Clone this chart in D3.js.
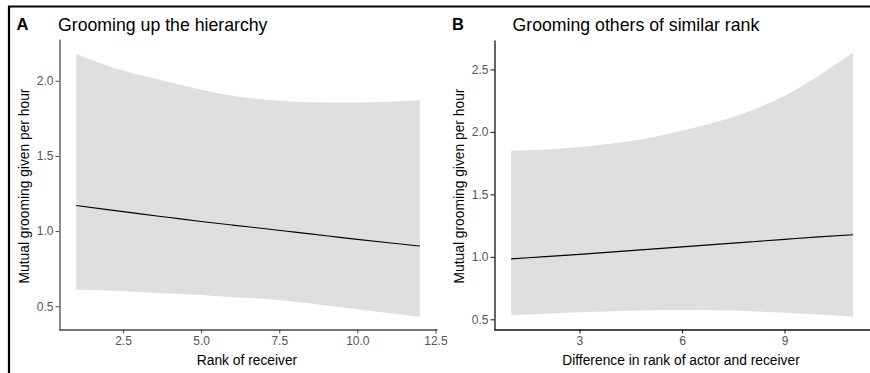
<!DOCTYPE html>
<html>
<head>
<meta charset="utf-8">
<script src="https://cdn.jsdelivr.net/npm/d3@7"></script>
<style>
  body { margin: 0; background: #fff; }
  text { font-family: "Liberation Sans", Arial, sans-serif; }
</style>
</head>
<body>
<div id="chart-area"></div>
<script>
// PANEL A DATA: rank of receiver
const rankA = [1, 2, 3, 4, 5, 6, 7, 8, 9, 10, 11, 12]
const fitA = [1.17, 1.143, 1.116, 1.09, 1.064, 1.04, 1.017, 0.993, 0.969, 0.945, 0.922, 0.90]
const upperA = [2.18, 2.10, 2.04, 1.99, 1.94, 1.90, 1.875, 1.86, 1.855, 1.855, 1.86, 1.87]
const lowerA = [0.61, 0.605, 0.595, 0.585, 0.575, 0.56, 0.55, 0.53, 0.505, 0.48, 0.455, 0.43]
const xTicksA = [2.5, 5, 7.5, 10, 12.5]
const yTicksA = [0.5, 1.0, 1.5, 2.0]

// PANEL B DATA: difference in rank
const diffB = [1, 2, 3, 4, 5, 6, 7, 8, 9, 10, 11]
const fitB = [0.984, 1.002, 1.02, 1.04, 1.06, 1.08, 1.10, 1.12, 1.14, 1.16, 1.177]
const upperB = [1.85, 1.86, 1.88, 1.91, 1.95, 2.01, 2.08, 2.17, 2.29, 2.45, 2.635]
const lowerB = [0.535, 0.545, 0.556, 0.565, 0.572, 0.575, 0.572, 0.565, 0.553, 0.538, 0.52]
const xTicksB = [3, 6, 9]
const yTicksB = [0.5, 1.0, 1.5, 2.0, 2.5]

const width = 870
const height = 373

const svg = d3.select('#chart-area')
              .append('svg')
              .attr('width', width)
              .attr('height', height)

// OUTER FRAME (left and top edges only are visible)
svg.append('line')
   .attr('x1', 9).attr('x2', 9).attr('y1', 6).attr('y2', height)
   .attr('stroke', '#000').attr('stroke-width', 2.2)
svg.append('line')
   .attr('x1', 8).attr('x2', width).attr('y1', 6.5).attr('y2', 6.5)
   .attr('stroke', '#000').attr('stroke-width', 2.2)

function drawPanel(p) {
    const x = d3.scaleLinear().domain(p.xDomain).range([p.left, p.right])
    const y = d3.scaleLinear().domain(p.yDomain).range([330, p.top])

    const rows = p.xs.map((v, i) => ({ x: v, fit: p.fit[i], lo: p.lower[i], hi: p.upper[i] }))

    svg.append('path')
       .datum(rows)
       .attr('fill', '#dfdfdf')
       .attr('d', d3.area()
                    .curve(d3.curveMonotoneX)
                    .x(d => x(d.x))
                    .y0(d => y(d.lo))
                    .y1(d => y(d.hi)))

    svg.append('path')
       .datum(rows)
       .attr('fill', 'none')
       .attr('stroke', '#000')
       .attr('stroke-width', 1.1)
       .attr('d', d3.line()
                    .curve(d3.curveMonotoneX)
                    .x(d => x(d.x))
                    .y(d => y(d.fit)))

    const xAxis = svg.append('g')
                     .attr('transform', 'translate(0,' + 329.5 + ')')
                     .call(d3.axisBottom(x)
                             .tickValues(p.xTicks)
                             .tickFormat(p.xFormat)
                             .tickSize(4)
                             .tickSizeOuter(0))
    const yAxis = svg.append('g')
                     .attr('transform', 'translate(' + (p.left + 0.5) + ',0)')
                     .call(d3.axisLeft(y)
                             .tickValues(p.yTicks)
                             .tickFormat(d3.format('.1f'))
                             .tickSize(4)
                             .tickSizeOuter(0))

    ;[xAxis, yAxis].forEach(g => {
        g.select('.domain').attr('stroke', p.axisColor).attr('stroke-width', 1.3)
        g.selectAll('.tick line').attr('stroke', p.axisColor)
        g.selectAll('.tick text')
         .attr('fill', '#555')
         .attr('font-size', '12px')
         .attr('font-family', '"Liberation Sans", Arial, sans-serif')
    })
    xAxis.selectAll('.tick text').attr('y', 7)
    yAxis.selectAll('.tick text').attr('x', -6)

    // PANEL LETTER AND TITLE
    svg.append('text')
       .attr('x', p.letterX).attr('y', 30)
       .attr('font-size', '16.5px').attr('font-weight', 'bold')
       .text(p.letter)
    svg.append('text')
       .attr('x', p.titleX).attr('y', 30.5)
       .attr('font-size', '17.7px')
       .text(p.title)

    // AXIS TITLES
    svg.append('text')
       .attr('x', (p.left + p.right) / 2 - 1).attr('y', 365)
       .attr('text-anchor', 'middle')
       .attr('font-size', '13.8px')
       .text(p.xLabel)
    svg.append('text')
       .attr('transform', 'translate(' + (p.left - 30.5) + ',186) rotate(-90)')
       .attr('text-anchor', 'middle')
       .attr('font-size', '13.8px')
       .text('Mutual grooming given per hour')
}

drawPanel({
    xs: rankA, fit: fitA, upper: upperA, lower: lowerA,
    xTicks: xTicksA, yTicks: yTicksA, xFormat: d3.format('.1f'),
    xDomain: [0.45, 12.55], yDomain: [0.342, 2.278],
    left: 59, right: 437, top: 39,
    axisColor: '#4a4a4a',
    letter: 'A', letterX: 16.5, title: 'Grooming up the hierarchy', titleX: 58,
    xLabel: 'Rank of receiver'
})

drawPanel({
    xs: diffB, fit: fitB, upper: upperB, lower: lowerB,
    xTicks: xTicksB, yTicks: yTicksB, xFormat: d3.format('d'),
    xDomain: [0.5, 11.5], yDomain: [0.4145, 2.7355],
    left: 494, right: 870, top: 40,
    axisColor: '#111',
    letter: 'B', letterX: 452, title: 'Grooming others of similar rank', titleX: 512.5,
    xLabel: 'Difference in rank of actor and receiver'
})
</script>
</body>
</html>
